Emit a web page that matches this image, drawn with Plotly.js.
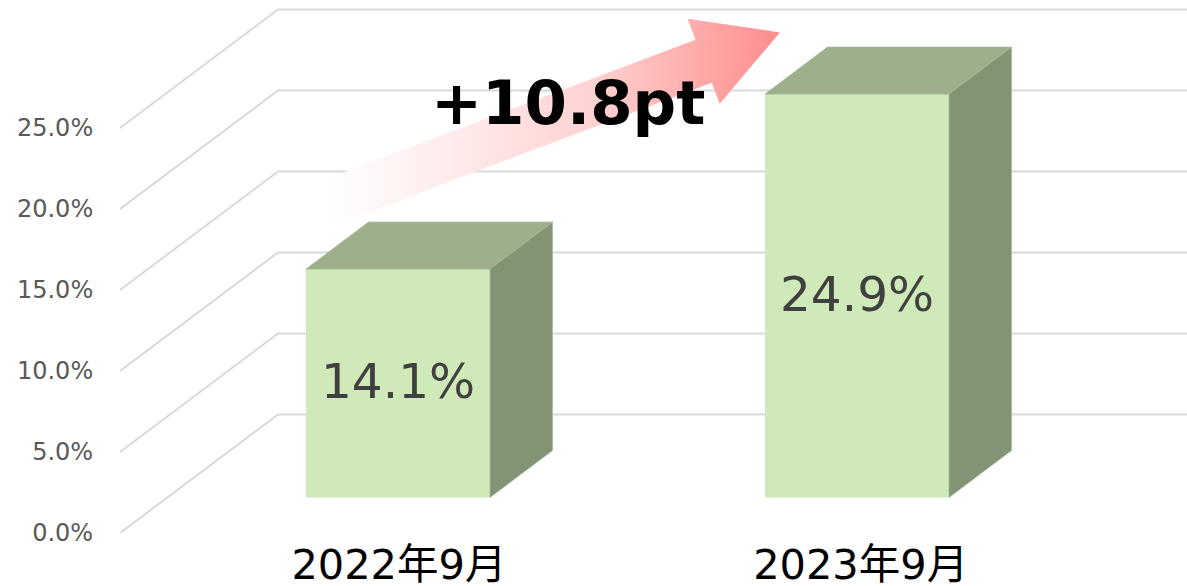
<!DOCTYPE html>
<html>
<head>
<meta charset="utf-8">
<script src="https://cdn.plot.ly/plotly-3.0.0.min.js"></script>
<style>html,body{margin:0;padding:0;background:#fff;overflow:hidden}#chart{width:1187px;height:586px}</style>
</head>
<body>
<div id="chart"></div>
<script>
// Data
var categories = ['2022年9月', '2023年9月'];
var values = [14.1, 24.9];
var yTicks = [0, 5, 10, 15, 20, 25];
var changeLabel = '+10.8pt';

// Plot frame (pixels) and the scale it gives
var W = 1187, H = 586, mL = 120, mB = 53;
var pxPerCat = 459, pxPerPct = 16.2, firstCatPx = 398;
var xRange = [(mL - firstCatPx) / pxPerCat, (W - firstCatPx) / pxPerCat];
var yRange = [0, (H - mB) / pxPerPct];

// Pseudo-3D depth, in axis units
var wallDx = 158 / pxPerCat, wallDy = 118.5 / pxPerPct;
var barDx = 62.5 / pxPerCat, barDy = 47 / pxPerPct;
var barBase = 35.5 / pxPerPct, barWidth = 184 / pxPerCat;

var FONT = '"DejaVu Sans","Noto Sans CJK JP",sans-serif';

// Floor and wall gridlines
var shapes = [];
yTicks.forEach(function (t) {
  shapes.push({type: 'line', layer: 'below', xref: 'x', yref: 'y',
    x0: xRange[0], y0: t, x1: xRange[0] + wallDx, y1: t + wallDy,
    line: {color: '#D9D9D9', width: 2}});
  shapes.push({type: 'line', layer: 'below', xref: 'x', yref: 'y',
    x0: xRange[0] + wallDx, y0: t + wallDy, x1: xRange[1], y1: t + wallDy,
    line: {color: '#D9D9D9', width: 2}});
});

var traces = [{
  type: 'bar', x: categories.map(function (c, i) { return i; }), y: values,
  base: barBase, width: barWidth,
  marker: {color: '#CFE9B9', line: {width: 0}},
  hoverinfo: 'skip', cliponaxis: false
}];

// Top and side faces of each bar, derived from its value
values.forEach(function (v, i) {
  var L = i - barWidth / 2, R = i + barWidth / 2, t = barBase + v;
  traces.push({type: 'scatter', mode: 'lines', fill: 'toself', fillcolor: '#9DB08B',
    x: [L, R, R + barDx, L + barDx, L], y: [t, t, t + barDy, t + barDy, t],
    line: {color: '#A6B896', width: 0.75}, hoverinfo: 'skip'});
  traces.push({type: 'scatter', mode: 'lines', fill: 'toself', fillcolor: '#839375',
    x: [R, R, R + barDx, R + barDx, R], y: [barBase, t, t + barDy, barBase + barDy, barBase],
    line: {color: '#A9B79C', width: 0.75}, hoverinfo: 'skip'});
});

// Change arrow: runs above the first bar towards the top of the second
var arrowFrom = {x: -0.179, y: values[0] + 5.99};
var arrowTo = {x: 0.832, y: values[1] + 6.0};
(function () {
  var dxP = (arrowTo.x - arrowFrom.x) * pxPerCat, dyP = (arrowTo.y - arrowFrom.y) * pxPerPct;
  var len = Math.sqrt(dxP * dxP + dyP * dyP), ux = dxP / len, uy = dyP / len, nx = -uy, ny = ux;
  var shaft = 23, head = 45.5, headLen = 81.5;
  function pt(along, across) {
    return [arrowFrom.x + (ux * along + nx * across) / pxPerCat,
            arrowFrom.y + (uy * along + ny * across) / pxPerPct];
  }
  var outline = [pt(0, shaft), pt(len - headLen, shaft), pt(len - headLen, head), pt(len, 0),
                 pt(len - headLen, -head), pt(len - headLen, -shaft), pt(0, -shaft), pt(0, shaft)];
  traces.push({type: 'scatter', mode: 'none', fill: 'toself', hoverinfo: 'skip',
    x: outline.map(function (p) { return p[0]; }), y: outline.map(function (p) { return p[1]; }),
    fillgradient: {type: 'horizontal', colorscale: [[0, '#FFFFFF'], [0.03, '#FFFFFF'], [0.35, '#FFE8E8'],
      [0.6, '#FFD2D2'], [0.82, '#FFACAC'], [1, '#FF8C8C']]}});
})();

// Value labels sit at the middle of each bar's front face
var annotations = values.map(function (v, i) {
  return {xref: 'x', yref: 'y', x: i, y: barBase + v / 2, yshift: 2, showarrow: false,
    text: v.toFixed(1) + '%', xanchor: 'center', yanchor: 'middle',
    font: {family: FONT, size: 48.5, color: '#404040'}};
});
annotations.push({xref: 'x', yref: 'y', x: 0.371, y: values[1] + 1.66, text: '<b>' + changeLabel + '</b>',
  showarrow: false, font: {family: FONT, size: 61, color: '#000'}, xanchor: 'center', yanchor: 'middle'});

var layout = {
  width: W, height: H, showlegend: false, barmode: 'overlay',
  paper_bgcolor: '#fff', plot_bgcolor: 'rgba(0,0,0,0)',
  margin: {l: mL, r: 0, t: 0, b: mB, pad: 0},
  font: {family: FONT},
  xaxis: {range: xRange, tickmode: 'array', tickvals: [0.002, 1.008], ticktext: categories,
    tickfont: {family: FONT, size: 41.5, color: '#000'}, ticks: '', ticklen: 0, ticklabelstandoff: 3,
    showgrid: false, zeroline: false, showline: false, fixedrange: true},
  yaxis: {range: yRange, tickmode: 'array', tickvals: yTicks,
    ticktext: yTicks.map(function (t) { return t.toFixed(1) + '%'; }),
    tickfont: {family: FONT, size: 24, color: '#595959'}, ticks: 'outside', ticklen: 21,
    tickcolor: 'rgba(0,0,0,0)', showgrid: false, zeroline: false, showline: false, fixedrange: true},
  shapes: shapes,
  annotations: annotations
};
Plotly.newPlot('chart', traces, layout, {displayModeBar: false, staticPlot: true});
</script>
</body>
</html>
